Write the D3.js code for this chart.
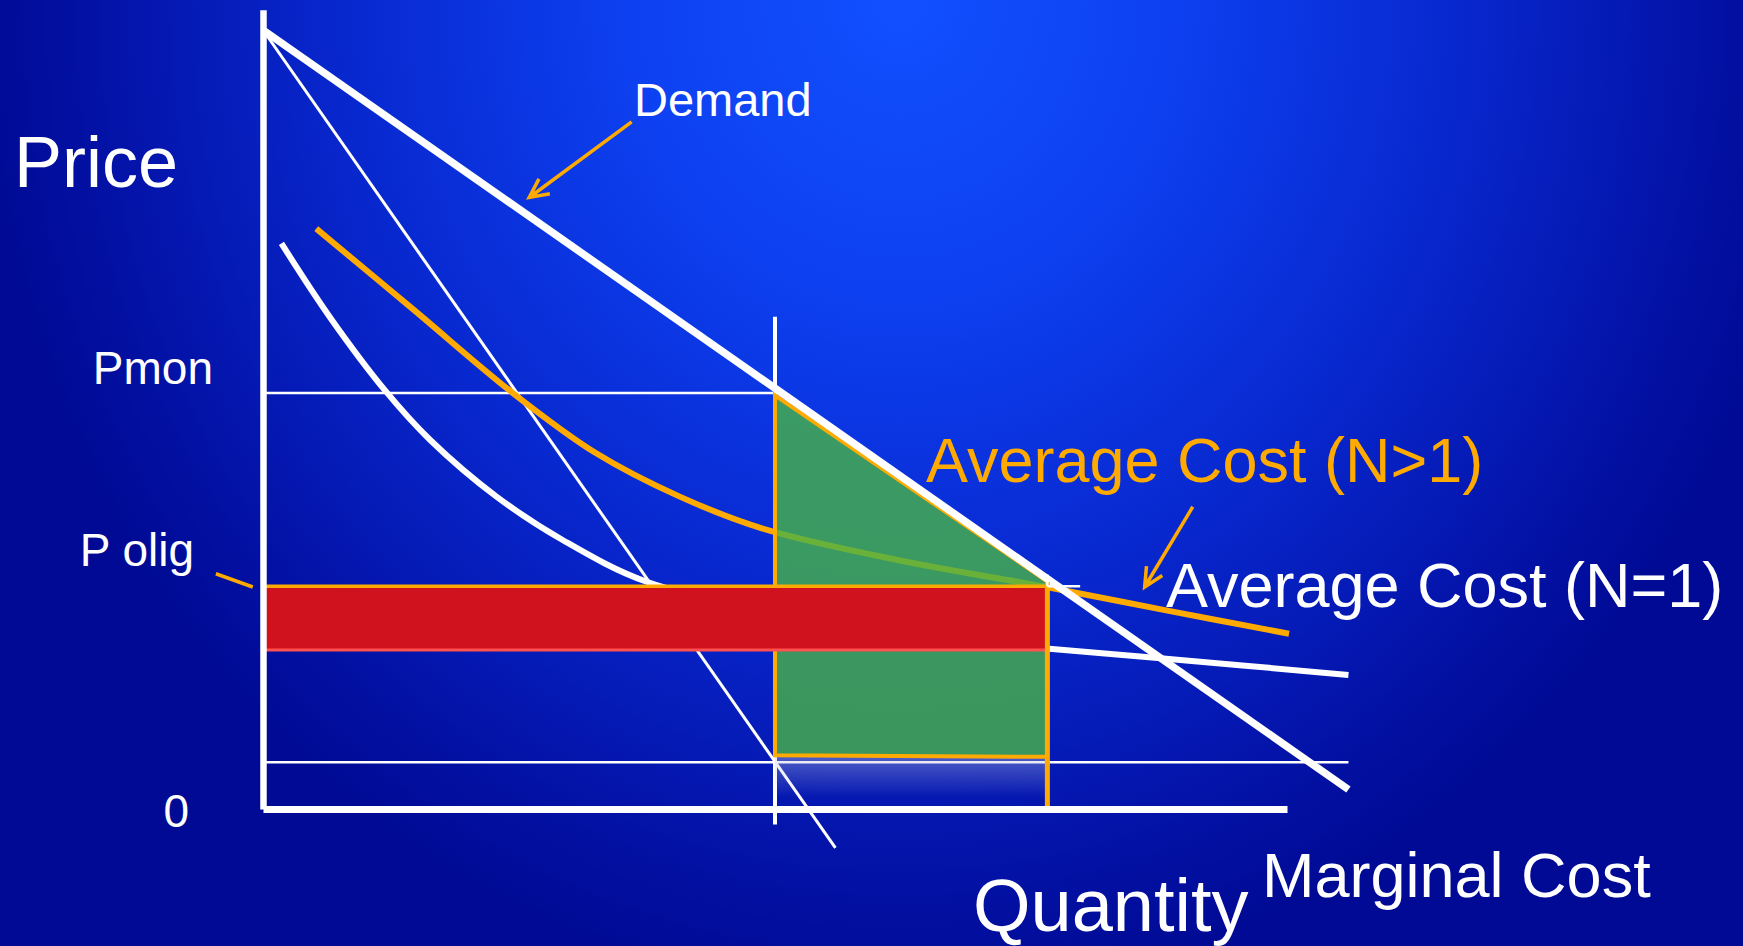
<!DOCTYPE html>
<html>
<head>
<meta charset="utf-8">
<title>Oligopoly price and quantity</title>
<script src="https://cdnjs.cloudflare.com/ajax/libs/d3/7.8.5/d3.min.js"></script>
<style>
body { margin: 0; background: #0410a4; overflow: hidden; }
svg { display: block; font-family: "Liberation Sans", Arial, sans-serif; }
</style>
</head>
<body>
<script>
var w = 1743, h = 946;

// curves, quantity and price both on a 0-100 scale
var demandQ = [0, 106];
var demandP = [100, 2.5];
var mrQ = [0, 55.9];
var mrP = [100, -5];
var acManyQ = [5.2, 14.7, 24.4, 32.5, 40.7, 48.8, 62.2, 76.5, 88.2, 100.2];
var acManyP = [74.5, 64.1, 53.4, 45.7, 40.1, 36.0, 31.9, 28.5, 25.5, 22.5];
var acOneQ = [1.8, 6.5, 12.0, 16.3, 22.8, 29.3, 37.4, 50, 62, 72, 76.5, 88.2, 106];
var acOneP = [72.6, 63.2, 53.6, 47.4, 40.1, 34.5, 29.2, 25.4, 22.8, 21.1, 20.6, 19.3, 17.2];

// key quantities and prices
var qMon = 50, pMon = 53.4;
var qOlig = 76.6, pOlig = 28.6, pOligLow = 20.4;
var pMc = 6;
var gainQ = [50, 76.6, 76.6, 50];
var gainP = [53.1, 29.2, 6.7, 6.9];

var x = d3.scaleLinear().domain([0, 100]).range([263, 1287]);
var y = d3.scaleLinear().domain([0, 100]).range([809, 30]);

var svg = d3.select("body").append("svg")
  .attr("width", w)
  .attr("height", h);

var defs = svg.append("defs");
var bg = defs.append("radialGradient").attr("id", "bg")
  .attr("gradientUnits", "userSpaceOnUse")
  .attr("cx", 900).attr("cy", 0).attr("r", 1000)
  .attr("gradientTransform", "translate(900,0) scale(0.92,1) translate(-900,0)");
bg.append("stop").attr("offset", 0).attr("stop-color", "#1250ff");
bg.append("stop").attr("offset", 0.3).attr("stop-color", "#0d40f0");
bg.append("stop").attr("offset", 0.6).attr("stop-color", "#0828cf");
bg.append("stop").attr("offset", 0.85).attr("stop-color", "#0414aa");
bg.append("stop").attr("offset", 1).attr("stop-color", "#000a94");

var shade = defs.append("linearGradient").attr("id", "shade")
  .attr("x1", 0).attr("x2", 0).attr("y1", 0).attr("y2", 1);
shade.append("stop").attr("offset", 0).attr("stop-color", "#c0c4dc").attr("stop-opacity", 0.4);
shade.append("stop").attr("offset", 1).attr("stop-color", "#c0c4dc").attr("stop-opacity", 0);

svg.append("rect").attr("width", w).attr("height", h).attr("fill", "url(#bg)");

var line = d3.line().x(function(d) { return x(d[0]); }).y(function(d) { return y(d[1]); });
var curve = d3.line().curve(d3.curveCatmullRom.alpha(0.5))
  .x(function(d) { return x(d[0]); }).y(function(d) { return y(d[1]); });

function pairs(qs, ps) { return qs.map(function(q, i) { return [q, ps[i]]; }); }

// thin guide lines
svg.append("path").attr("d", line([[0, pMc], [demandQ[1], pMc]]))
  .attr("stroke", "#fff").attr("stroke-width", 2.5).attr("fill", "none");
svg.append("path").attr("d", line([[0, pMon], [qMon, pMon]]))
  .attr("stroke", "#fff").attr("stroke-width", 2.5).attr("fill", "none");
svg.append("path").attr("d", line([[qMon, 63.2], [qMon, -2]]))
  .attr("stroke", "#fff").attr("stroke-width", 4).attr("fill", "none");

// marginal revenue
svg.append("path").attr("d", line(pairs(mrQ, mrP)))
  .attr("stroke", "#fff").attr("stroke-width", 3).attr("fill", "none");

// average cost curves
svg.append("path").attr("d", curve(pairs(acOneQ, acOneP)))
  .attr("stroke", "#fff").attr("stroke-width", 6).attr("fill", "none");
svg.append("path").attr("d", curve(pairs(acManyQ, acManyP)))
  .attr("stroke", "#ffaa00").attr("stroke-width", 6).attr("fill", "none");

// shadow below the green area
svg.append("rect")
  .attr("x", x(qMon)).attr("y", y(gainP[3]))
  .attr("width", x(qOlig) - x(qMon)).attr("height", y(1.5) - y(gainP[3]))
  .attr("fill", "url(#shade)");

// green area
svg.append("path").attr("d", line(pairs(gainQ, gainP)) + "Z")
  .attr("fill", "#47b347").attr("fill-opacity", 0.81).attr("stroke", "none");
svg.append("path").attr("d", line([[gainQ[1], gainP[1]], [gainQ[0], gainP[0]], [gainQ[3], gainP[3]], [gainQ[2], gainP[2]]]))
  .attr("stroke", "#ffaa00").attr("stroke-width", 4).attr("fill", "none");

// red band
svg.append("rect")
  .attr("x", x(0)).attr("y", y(pOlig))
  .attr("width", x(qOlig) - x(0)).attr("height", y(pOligLow) - y(pOlig))
  .attr("fill", "#d0121f");
svg.append("path").attr("d", line([[0, pOlig], [0, pOligLow], [qOlig, pOligLow]]))
  .attr("stroke", "#ff5050").attr("stroke-width", 3).attr("fill", "none");
svg.append("path").attr("d", line([[0, pOlig], [qOlig, pOlig]]))
  .attr("stroke", "#ffaa00").attr("stroke-width", 3.5);

// demand
svg.append("path").attr("d", line(pairs(demandQ, demandP)))
  .attr("stroke", "#fff").attr("stroke-width", 7.5).attr("fill", "none");

// oligopoly quantity
svg.append("path").attr("d", line([[qOlig, pOlig + 0.5], [qOlig, 0.3]]))
  .attr("stroke", "#ffaa00").attr("stroke-width", 5);
svg.append("path").attr("d", line([[qOlig, pOlig], [qOlig + 3.2, pOlig]]))
  .attr("stroke", "#fff").attr("stroke-width", 2.5);
svg.append("path").attr("d", line([[qOlig, pOlig], [qOlig, pOlig + 1.5]]))
  .attr("stroke", "#fff").attr("stroke-width", 2.5);

// pointer arrows
function arrow(from, to) {
  var x0 = x(from[0]), y0 = y(from[1]), x1 = x(to[0]), y1 = y(to[1]);
  var a = Math.atan2(y0 - y1, x0 - x1), len = 21, spread = 26 * Math.PI / 180;
  var p = d3.path();
  p.moveTo(x0, y0); p.lineTo(x1, y1);
  p.moveTo(x1 + len * Math.cos(a - spread), y1 + len * Math.sin(a - spread));
  p.lineTo(x1, y1);
  p.lineTo(x1 + len * Math.cos(a + spread), y1 + len * Math.sin(a + spread));
  svg.append("path").attr("d", p.toString())
    .attr("stroke", "#ffaa00").attr("stroke-width", 3.5).attr("fill", "none");
}
arrow([36.0, 88.2], [26.0, 78.5]);
arrow([90.8, 38.8], [86.1, 28.5]);
svg.append("path").attr("d", line([[-4.6, 30.2], [-1.0, 28.5]]))
  .attr("stroke", "#ffaa00").attr("stroke-width", 3.5);

// axes
var yAxisScale = y.copy().domain([0, 102.6]).range([y(0), y(102.6)]);
svg.append("g").attr("transform", "translate(" + x(0) + ",0)")
  .call(d3.axisLeft(yAxisScale).tickValues([]).tickSizeOuter(0))
  .select(".domain").attr("stroke", "#fff").attr("stroke-width", 6.5);
svg.append("g").attr("transform", "translate(0," + y(0) + ")")
  .call(d3.axisBottom(x).tickValues([]).tickSizeOuter(0))
  .select(".domain").attr("stroke", "#fff").attr("stroke-width", 7);

// text
function label(t, px, py, size, color, anchor) {
  svg.append("text").text(t).attr("x", px).attr("y", py)
    .attr("font-size", size).attr("fill", color)
    .attr("text-anchor", anchor || "start");
}
label("Price", 14, 187, 72, "#fff");
label("Demand", 634, 116, 47, "#fff");
label("Pmon", 213, y(pMon) - 9, 46, "#fff", "end");
label("P olig", 194, y(pOlig) - 20, 46, "#fff", "end");
label("0", 189, y(0) + 18, 46, "#fff", "end");
label("Average Cost (N>1)", 926, 482, 63, "#ffaa00");
label("Average Cost (N=1)", 1166, 607, 63, "#fff");
label("Quantity", 973, 931, 74, "#fff");
label("Marginal Cost", 1262, 897, 63, "#fff");
</script>
</body>
</html>
